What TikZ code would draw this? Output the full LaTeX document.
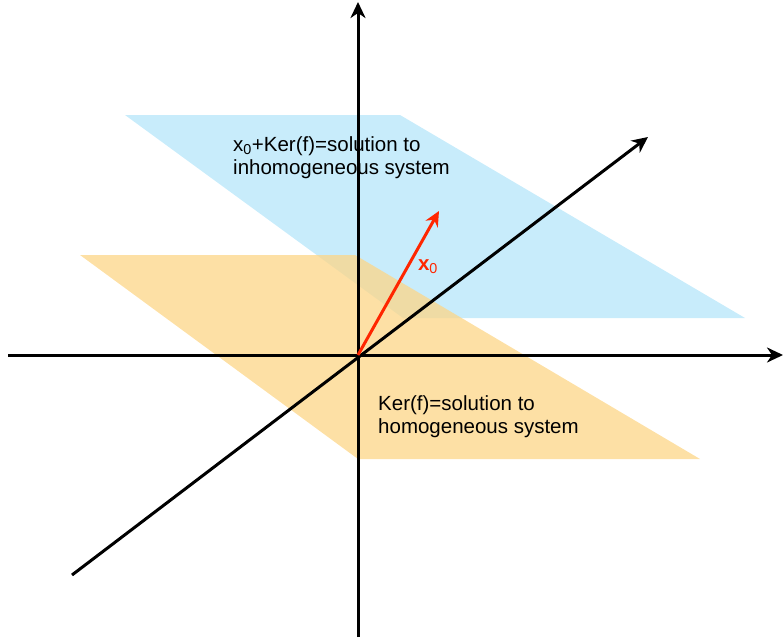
\documentclass[tikz,border=0pt]{standalone}
\usepackage{fontspec}
\setmainfont{Liberation Sans}
\usepackage{tikz}
\usetikzlibrary{positioning,arrows.meta}
\definecolor{PlaneBlue}{RGB}{200, 236, 251}
\definecolor{PlaneOrange}{RGB}{253, 214, 135}
\definecolor{VecRed}{RGB}{255, 38, 0}

\begin{document}
\begin{tikzpicture}[x=1pt, y=-1pt,
    axis/.style={line width=3pt, -{Stealth[length=16pt, width=15pt, inset=5pt]}},
    planelabel/.style={anchor=north west, inner sep=0pt, align=left, font=\fontsize{20.5}{23}\selectfont}]
  \useasboundingbox (0,0) rectangle (783,642);
  % planes
  \fill[PlaneBlue] (125,115) -- (400,115) -- (745,318) -- (403,318) -- cycle;
  \fill[PlaneOrange, fill opacity=0.75] (80,255) -- (355,255) -- (700,459) -- (358,459) -- cycle;
  \node[planelabel] (inhomlab) at (233,136) {x\textsubscript{0}+Ker(f)=solution to\\inhomogeneous system};
  \node[planelabel] (homlab) at (378,395) {Ker(f)=solution to\\homogeneous system};
  % axes
  \coordinate (O) at (358,355);
  \coordinate (ybot) at (358,637);
  \coordinate (ytop) at (358,2);
  \coordinate (xleft) at (8,355);
  \coordinate (xright) at (783,355);
  \coordinate (dleft) at (72,575);
  \coordinate (dright) at (648,137);
  \draw[axis] (ybot) -- (ytop);
  \draw[axis] (xleft) -- (xright);
  \draw[axis] (dleft) -- (dright);
  \coordinate (x0tip) at (439,211);
  \draw[VecRed, line width=3pt, -{Stealth[length=15pt, width=14pt, inset=5pt]}] (O) -- (x0tip);
  \node[VecRed, font=\fontsize{20.5}{23}\selectfont] (x0lab) at (428,267) {\textbf{x}\textsubscript{0}};
\end{tikzpicture}
\end{document}
